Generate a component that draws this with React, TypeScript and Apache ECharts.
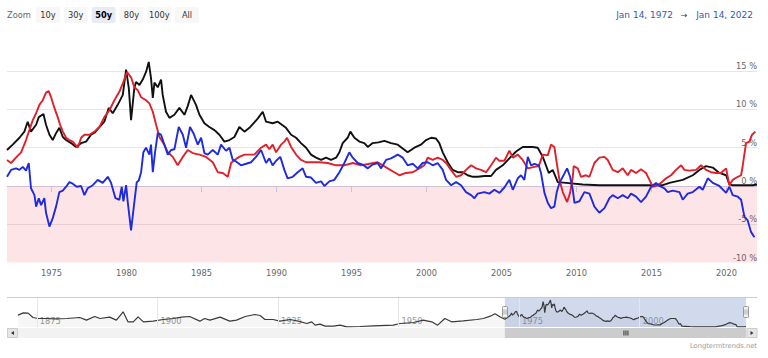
import React, { useEffect, useRef } from "react";
import * as echarts from "echarts";

const FONT = '"DejaVu Sans", Verdana, sans-serif';

// Short-term interest rate (black), [year, %]
const interestRate: [number, number][] = [
  [1972.04, 4.7], [1972.42, 5.4], [1972.87, 6.3], [1973.2, 7.1], [1973.42, 8.4], [1973.64, 7.1], [1973.98, 8.0],
  [1974.16, 9.0], [1974.47, 9.4], [1974.64, 8.0], [1974.87, 6.7], [1975.09, 6.0], [1975.31, 6.9], [1975.53, 7.6],
  [1975.76, 6.4], [1975.98, 6.0], [1976.31, 5.6], [1976.64, 5.1], [1976.98, 5.6], [1977.31, 5.8], [1977.64, 6.7],
  [1977.9, 7.0], [1978.2, 7.7], [1978.53, 8.4], [1978.82, 10.2], [1979.09, 9.5], [1979.42, 10.6], [1979.76, 11.9],
  [1979.98, 15.2], [1980.16, 12.8], [1980.31, 8.6], [1980.53, 12.8], [1980.64, 13.6], [1980.87, 13.2], [1981.09, 13.9],
  [1981.31, 14.9], [1981.49, 16.2], [1981.64, 14.1], [1981.76, 11.5], [1981.87, 13.5], [1982.09, 12.9], [1982.31, 13.9],
  [1982.42, 11.9], [1982.64, 9.7], [1982.87, 8.9], [1983.2, 9.3], [1983.53, 10.2], [1983.87, 9.3], [1984.1, 10.5],
  [1984.31, 11.9], [1984.64, 10.6], [1984.87, 9.3], [1985.2, 8.2], [1985.53, 7.7], [1985.87, 7.3], [1986.2, 6.7],
  [1986.53, 5.8], [1986.87, 6.0], [1987.2, 6.4], [1987.53, 7.7], [1987.87, 7.1], [1988.2, 7.6], [1988.53, 8.3],
  [1988.75, 8.8], [1989.09, 9.7], [1989.31, 8.4], [1989.75, 8.2], [1990.09, 8.4], [1990.64, 7.6], [1990.98, 6.7],
  [1991.31, 6.3], [1991.64, 5.6], [1991.98, 5.0], [1992.31, 4.1], [1992.64, 3.7], [1992.98, 3.4], [1993.31, 3.7],
  [1993.64, 3.4], [1993.98, 3.7], [1994.2, 4.4], [1994.42, 5.6], [1994.75, 6.3], [1994.93, 7.1], [1995.2, 6.3],
  [1995.53, 5.8], [1995.86, 5.6], [1996.09, 5.1], [1996.42, 5.6], [1996.8, 5.7], [1997.2, 5.9], [1997.64, 5.6],
  [1998.09, 5.4], [1998.75, 4.4], [1999.2, 5.0], [1999.64, 5.4], [1999.98, 6.0], [2000.31, 6.3], [2000.64, 6.2],
  [2000.86, 5.6], [2001.09, 4.4], [2001.42, 3.1], [2001.75, 2.1], [2002.09, 1.8], [2002.42, 1.8], [2002.75, 1.4],
  [2003.09, 1.2], [2003.42, 1.2], [2003.86, 1.3], [2004.31, 1.3], [2004.64, 2.1], [2005.09, 2.7], [2005.53, 3.6],
  [2005.98, 4.5], [2006.42, 5.1], [2007.09, 5.1], [2007.42, 5.0], [2007.76, 3.8], [2008.16, 1.7], [2008.42, 2.1],
  [2008.76, 0.5], [2009.31, 0.4], [2010.42, 0.2], [2011.53, 0.1], [2013.76, 0.1], [2015.76, 0.1], [2016.2, 0.4],
  [2017.09, 0.8], [2017.76, 1.4], [2018.2, 2.1], [2018.64, 2.6], [2019.09, 2.4], [2019.53, 1.7], [2019.98, 1.4],
  [2020.2, 0.2], [2020.42, 0.1], [2021.76, 0.1], [2022.04, 0.2],
];

// Inflation (red), [year, %]
const inflation: [number, number][] = [
  [1972.04, 3.4], [1972.31, 3.0], [1972.64, 3.7], [1972.98, 4.4], [1973.31, 6.0], [1973.53, 7.3], [1973.76, 8.6],
  [1973.98, 9.5], [1974.2, 10.6], [1974.42, 11.2], [1974.64, 12.2], [1974.82, 12.4], [1974.98, 11.6], [1975.2, 10.2],
  [1975.42, 9.0], [1975.58, 8.0], [1975.76, 7.1], [1975.98, 6.3], [1976.2, 6.0], [1976.42, 5.8], [1976.76, 5.0],
  [1976.98, 6.3], [1977.2, 6.7], [1977.53, 6.7], [1977.87, 7.1], [1978.2, 7.7], [1978.53, 9.0], [1978.87, 9.9],
  [1979.2, 11.2], [1979.53, 12.3], [1979.8, 13.6], [1980.04, 14.9], [1980.31, 14.2], [1980.53, 12.9], [1980.76, 12.5],
  [1980.98, 11.6], [1981.31, 11.2], [1981.53, 10.8], [1981.76, 9.7], [1981.98, 8.0], [1982.2, 6.4], [1982.53, 5.4],
  [1982.76, 4.4], [1983.09, 3.8], [1983.42, 2.7], [1983.76, 3.8], [1984.09, 4.7], [1984.42, 4.3], [1984.87, 4.1],
  [1985.31, 3.8], [1985.76, 3.1], [1986.09, 1.8], [1986.42, 1.7], [1986.76, 1.2], [1986.98, 3.0], [1987.2, 3.4],
  [1987.53, 3.8], [1987.87, 4.1], [1988.53, 4.1], [1988.98, 5.0], [1989.31, 5.4], [1989.53, 4.8], [1989.75, 5.4],
  [1989.98, 4.4], [1990.31, 5.4], [1990.53, 5.8], [1990.71, 6.3], [1990.98, 5.1], [1991.31, 4.1], [1991.64, 3.4],
  [1991.98, 3.1], [1992.86, 3.1], [1993.42, 3.0], [1993.98, 2.7], [1994.53, 2.7], [1995.09, 3.0], [1995.64, 2.7],
  [1996.2, 2.9], [1996.75, 3.1], [1997.09, 2.7], [1997.42, 2.3], [1997.86, 1.8], [1998.2, 1.4], [1998.64, 1.7],
  [1999.09, 1.8], [1999.53, 2.3], [1999.86, 2.7], [2000.09, 3.7], [2000.42, 3.4], [2000.75, 3.7], [2001.09, 3.4],
  [2001.31, 3.0], [2001.64, 2.1], [2001.98, 1.2], [2002.31, 1.4], [2002.64, 2.1], [2002.98, 2.7], [2003.31, 2.3],
  [2003.64, 2.1], [2003.98, 1.8], [2004.31, 2.7], [2004.64, 3.7], [2004.86, 3.3], [2005.2, 3.3], [2005.53, 4.6],
  [2005.76, 3.7], [2006.09, 4.1], [2006.42, 3.4], [2006.76, 2.3], [2007.2, 2.5], [2007.49, 2.6], [2007.76, 4.1],
  [2008.09, 4.0], [2008.31, 5.4], [2008.53, 5.1], [2008.69, 3.0], [2008.87, 0.8], [2009.09, -0.8], [2009.38, -2.1],
  [2009.58, -0.9], [2009.76, 1.2], [2009.82, 2.6], [2010.09, 2.3], [2010.31, 1.2], [2010.64, 1.4], [2010.87, 1.2],
  [2011.2, 3.0], [2011.53, 3.7], [2011.87, 3.8], [2012.09, 3.4], [2012.42, 2.1], [2012.76, 1.8], [2013.09, 2.3],
  [2013.42, 1.4], [2013.64, 2.1], [2013.98, 1.7], [2014.31, 2.2], [2014.64, 1.7], [2014.87, 0.8], [2015.09, -0.1],
  [2015.31, 0.0], [2015.64, 0.4], [2015.98, 1.0], [2016.31, 1.4], [2016.64, 2.1], [2016.98, 2.7], [2017.2, 2.1],
  [2017.53, 2.0], [2017.98, 2.1], [2018.31, 2.7], [2018.64, 2.1], [2018.98, 1.8], [2019.31, 1.7], [2019.64, 1.7],
  [2019.98, 2.3], [2020.2, 0.1], [2020.42, 0.8], [2020.76, 1.2], [2020.98, 1.4], [2021.09, 2.7], [2021.31, 5.6],
  [2021.53, 5.8], [2021.71, 6.7], [2021.93, 7.1],
];

// Real interest rate (blue), [year, %]
const realRate: [number, number][] = [
  [1972.04, 1.2], [1972.31, 2.1], [1972.64, 2.3], [1972.87, 2.1], [1973.09, 2.5], [1973.31, 2.0], [1973.49, 3.0],
  [1973.64, -0.3], [1973.87, -1.2], [1973.98, -2.7], [1974.16, -1.6], [1974.31, -2.5], [1974.53, -1.6], [1974.64, -3.5],
  [1974.87, -5.3], [1975.09, -4.2], [1975.31, -2.7], [1975.53, -0.8], [1975.76, -0.6], [1975.98, -0.1], [1976.2, 0.5],
  [1976.42, 0.3], [1976.69, -0.1], [1976.98, 0.0], [1977.2, -1.2], [1977.42, -0.3], [1977.76, 0.1], [1978.09, 0.8],
  [1978.42, 0.4], [1978.76, 1.2], [1978.98, 0.4], [1979.27, -1.6], [1979.53, -1.8], [1979.69, -0.1], [1979.8, -2.0],
  [1979.98, 0.1], [1980.09, -2.1], [1980.31, -5.8], [1980.53, -2.1], [1980.69, 0.5], [1980.82, 0.7], [1980.98, 1.8],
  [1981.13, 4.4], [1981.31, 5.0], [1981.53, 4.1], [1981.64, 5.4], [1981.76, 1.8], [1981.91, 4.4], [1982.09, 6.9],
  [1982.31, 6.7], [1982.53, 5.4], [1982.76, 4.1], [1982.98, 4.7], [1983.2, 4.8], [1983.49, 7.7], [1983.76, 6.7],
  [1983.98, 5.0], [1984.24, 7.7], [1984.47, 6.9], [1984.76, 5.4], [1984.98, 6.3], [1985.2, 4.3], [1985.42, 4.1],
  [1985.76, 4.7], [1986.09, 4.1], [1986.31, 5.4], [1986.64, 4.6], [1986.87, 5.0], [1987.09, 3.4], [1987.31, 3.2],
  [1987.64, 2.7], [1987.98, 2.9], [1988.31, 3.1], [1988.64, 3.8], [1988.98, 4.7], [1989.31, 3.0], [1989.53, 3.6],
  [1989.75, 2.7], [1989.98, 3.3], [1990.26, 3.8], [1990.53, 2.1], [1990.75, 1.0], [1991.09, 1.2], [1991.42, 1.8],
  [1991.75, 2.3], [1991.98, 1.2], [1992.31, 1.1], [1992.64, 0.4], [1992.98, 0.6], [1993.2, 0.0], [1993.53, 0.6],
  [1993.86, 0.8], [1994.2, 1.8], [1994.53, 3.0], [1994.86, 4.4], [1995.09, 3.7], [1995.42, 3.0], [1995.75, 2.8],
  [1996.09, 2.3], [1996.42, 2.8], [1996.75, 3.0], [1996.98, 2.3], [1997.31, 3.4], [1997.64, 3.6], [1998.09, 4.1],
  [1998.42, 3.7], [1998.75, 2.7], [1999.09, 2.9], [1999.42, 2.3], [1999.75, 3.0], [2000.09, 3.1], [2000.42, 2.7],
  [2000.75, 3.0], [2001.09, 2.1], [2001.31, 0.8], [2001.64, 0.1], [2001.98, 0.5], [2002.31, 0.1], [2002.64, -0.8],
  [2002.98, -1.2], [2003.2, -1.6], [2003.42, -1.0], [2003.86, -0.8], [2004.2, -1.0], [2004.53, -0.5], [2004.87, -0.9],
  [2005.2, -0.2], [2005.53, 0.8], [2005.76, -0.5], [2006.09, 1.0], [2006.31, 1.4], [2006.53, 0.8], [2006.76, 3.8],
  [2006.98, 2.7], [2007.2, 2.9], [2007.49, 2.7], [2007.64, 1.7], [2007.87, -0.9], [2008.09, -2.2], [2008.31, -2.9],
  [2008.53, -2.7], [2008.69, -0.8], [2008.87, 0.4], [2009.09, 1.2], [2009.38, 2.3], [2009.58, 1.2], [2009.76, -0.5],
  [2009.87, -2.2], [2010.2, -2.0], [2010.53, -0.8], [2010.87, -1.0], [2011.2, -2.7], [2011.53, -3.5], [2011.87, -2.9],
  [2012.2, -1.6], [2012.42, -1.2], [2012.76, -1.6], [2013.09, -1.2], [2013.42, -1.6], [2013.64, -1.0], [2013.98, -1.4],
  [2014.31, -2.1], [2014.64, -1.4], [2014.98, -0.1], [2015.31, 0.4], [2015.53, 0.0], [2015.87, -0.3], [2016.09, -0.8],
  [2016.42, -0.6], [2016.87, -0.8], [2017.09, -1.8], [2017.42, -1.0], [2017.76, -0.8], [2018.2, -0.1], [2018.42, -0.5],
  [2018.76, 1.0], [2019.09, 0.4], [2019.53, 0.0], [2019.98, -0.9], [2020.2, -0.1], [2020.42, -1.2], [2020.76, -1.4],
  [2020.98, -1.8], [2021.2, -4.0], [2021.42, -4.5], [2021.64, -6.0], [2021.87, -6.7],
];

// Long-run interest-rate history shown only in the navigator (before 1972)
const longRunRate: [number, number][] = [
  [1871.1, 7.1], [1872.2, 8.5], [1873.2, 8.3], [1874.2, 5.7], [1875.3, 5.1], [1877.0, 5.1], [1878.7, 4.9],
  [1881.2, 5.1], [1883.9, 5.7], [1885.3, 4.1], [1887.0, 6.3], [1888.1, 5.1], [1890.1, 5.9], [1891.5, 4.1],
  [1892.9, 9.1], [1893.9, 3.1], [1895.0, 3.1], [1896.0, 6.1], [1897.1, 3.1], [1899.1, 3.5], [1901.2, 4.5],
  [1903.3, 5.1], [1905.0, 5.9], [1906.7, 6.3], [1908.8, 3.5], [1909.8, 5.1], [1910.9, 4.1], [1913.0, 5.9],
  [1915.0, 3.5], [1916.4, 4.1], [1918.2, 6.3], [1920.2, 7.5], [1921.3, 6.9], [1922.3, 4.5], [1924.0, 4.5],
  [1925.4, 3.5], [1927.5, 4.5], [1929.2, 3.5], [1931.0, 2.1], [1932.0, 3.1], [1932.7, 1.1], [1933.7, 1.7],
  [1934.8, 0.5], [1936.5, 0.5], [1937.9, 1.1], [1939.3, 0.1], [1942.0, 0.3], [1944.8, 0.7], [1948.9, 1.1],
  [1950.3, 2.1], [1953.1, 2.7], [1955.1, 4.1], [1956.9, 3.1], [1958.1, 1.1], [1959.6, 5.1], [1961.0, 3.1],
  [1963.4, 3.7], [1966.2, 4.5], [1967.6, 5.1], [1969.0, 6.5], [1970.0, 8.0], [1971.1, 6.0],
];

const xTickYears = [1975, 1980, 1985, 1990, 1995, 2000, 2005, 2010, 2015, 2020];
const navTickYears = [1875, 1900, 1925, 1950, 1975, 2000];
const yMin = -10;
const yMax = 16.2;
const yStep = 5;
const navStart = 1871.1;
const navValueMax = 18;
const rangeStart = 1972.04;
const rangeEnd = 2022.04;
const rangeButtons = ["10y", "30y", "50y", "80y", "100y", "All"];
const selectedRange = "50y";
const zoomLabel = "Zoom";
const fromLabel = "Jan 14, 1972";
const toLabel = "Jan 14, 2022";
const creditLabel = "Longtermtrends.net";

export default function App() {
  const ref = useRef<HTMLDivElement>(null);

  useEffect(() => {
    const chart = echarts.init(ref.current!, null, { renderer: "svg" });

    const line = (name: string, data: [number, number][], color: string, extra: any = {}) => ({
      type: "line",
      name,
      data,
      xAxisIndex: 0,
      yAxisIndex: 0,
      symbol: "none",
      showSymbol: false,
      silent: true,
      lineStyle: { color, width: 1.9 },
      itemStyle: { color },
      z: 3,
      ...extra,
    });

    chart.setOption({
      animation: false,
      grid: [
        { left: 7, right: 11, top: 62, height: 200.5 },
        { left: 18, right: 22, top: 297, height: 30 },
      ],
      xAxis: [
        {
          type: "value",
          gridIndex: 0,
          min: rangeStart,
          max: rangeEnd,
          axisLine: { show: true, lineStyle: { color: "#ccd6eb", width: 1 } },
          axisTick: { show: true, customValues: xTickYears, length: 6, lineStyle: { color: "#ccd6eb" } },
          axisLabel: {
            customValues: xTickYears,
            color: "#666666",
            fontSize: 8.25,
            fontFamily: FONT,
            margin: 6,
            formatter: (v: number) => String(Math.round(v)),
          },
          splitLine: { show: false },
        },
        {
          type: "value",
          gridIndex: 1,
          min: navStart,
          max: rangeEnd,
          axisLine: { show: false },
          axisTick: { show: false },
          axisLabel: {
            customValues: navTickYears,
            inside: true,
            align: "left",
            verticalAlign: "bottom",
            padding: [0, 0, 0, 3],
            margin: 2,
            color: "#999999",
            fontSize: 8.25,
            fontFamily: FONT,
            formatter: (v: number) => String(Math.round(v)),
          },
          splitLine: { show: false },
        },
      ],
      yAxis: [
        {
          type: "value",
          gridIndex: 0,
          position: "right",
          min: yMin,
          max: yMax,
          interval: yStep,
          axisLine: { show: false },
          axisTick: { show: false },
          axisLabel: {
            inside: true,
            margin: 0,
            verticalAlign: "bottom",
            padding: [0, 0, 1, 0],
            showMaxLabel: false,
            color: "#666666",
            fontSize: 8.25,
            fontFamily: FONT,
            formatter: (v: number) => `${v} %`,
          },
          splitLine: { show: true, showMaxLine: false, showMinLine: false, lineStyle: { color: "#e6e6e6", width: 1 } },
        },
        {
          type: "value",
          gridIndex: 1,
          min: 0,
          max: navValueMax,
          show: false,
          splitLine: { show: false },
        },
      ],
      series: [
        line("Interest rate", interestRate, "#111111", {
          markArea: {
            silent: true,
            itemStyle: { color: "rgba(240, 30, 60, 0.12)" },
            data: [[{ yAxis: yMin }, { yAxis: 0 }]],
          },
        }),
        line("Inflation", inflation, "#e0202a"),
        line("Real interest rate", realRate, "#1f2bdc"),
        {
          type: "line",
          name: "Navigator",
          xAxisIndex: 1,
          yAxisIndex: 1,
          data: [...longRunRate, ...interestRate],
          symbol: "none",
          showSymbol: false,
          silent: true,
          lineStyle: { color: "#3a3a3a", width: 1.2 },
          areaStyle: { color: "rgba(0,0,0,0.05)" },
          z: 3,
          markLine: {
            silent: true,
            symbol: "none",
            label: { show: false },
            lineStyle: { color: "#e6e6e6", width: 1, type: "solid" },
            data: navTickYears.map((y) => ({ xAxis: y })),
          },
          markArea: {
            silent: true,
            itemStyle: { color: "rgba(102,133,194,0.3)" },
            data: [[{ xAxis: rangeStart }, { xAxis: rangeEnd }]],
          },
        },
      ],
    });

    const hx0 = chart.convertToPixel({ xAxisIndex: 1 }, rangeStart) as number;
    const hx1 = chart.convertToPixel({ xAxisIndex: 1 }, rangeEnd) as number;
    const navTop = 297;
    const navMid = 312;
    const sbTop = 328;
    const sbH = 10;
    const left = 7;
    const right = 757;

    const graphics: any[] = [];
    graphics.push({
      type: "text",
      x: 7,
      y: 15,
      style: { text: zoomLabel, fill: "#666666", font: `8.25px ${FONT}`, align: "left", verticalAlign: "middle" },
    });
    rangeButtons.forEach((b, i) => {
      const bx = 36 + i * 27.8;
      const sel = b === selectedRange;
      graphics.push({
        type: "rect",
        shape: { x: bx, y: 7, width: 24, height: 16, r: 2 },
        style: { fill: sel ? "#e6ebf5" : "#f7f7f7" },
      });
      graphics.push({
        type: "text",
        x: bx + 12,
        y: 15,
        style: {
          text: b,
          fill: sel ? "#000000" : "#333333",
          font: `${sel ? "bold " : ""}8.25px ${FONT}`,
          align: "center",
          verticalAlign: "middle",
        },
      });
    });
    graphics.push({
      type: "text",
      x: 673,
      y: 15,
      style: { text: fromLabel, fill: "#335cad", font: `9px ${FONT}`, align: "right", verticalAlign: "middle" },
    });
    graphics.push({
      type: "text",
      x: 684,
      y: 15,
      style: { text: "→", fill: "#333333", font: `8px ${FONT}`, align: "center", verticalAlign: "middle" },
    });
    graphics.push({
      type: "text",
      x: 753,
      y: 15,
      style: { text: toLabel, fill: "#335cad", font: `9px ${FONT}`, align: "right", verticalAlign: "middle" },
    });

    // navigator outline
    graphics.push({
      type: "line",
      z: 10,
      shape: { x1: left, y1: navTop + 0.5, x2: right, y2: navTop + 0.5 },
      style: { stroke: "#cccccc", lineWidth: 1 },
    });
    // scrollbar track
    graphics.push({
      type: "rect",
      z: 10,
      shape: { x: left, y: sbTop, width: right - left, height: sbH },
      style: { fill: "#f2f2f2" },
    });
    // scrollbar thumb
    graphics.push({
      type: "rect",
      z: 11,
      shape: { x: hx0, y: sbTop, width: hx1 - hx0, height: sbH },
      style: { fill: "#cccccc" },
    });
    const cx = (hx0 + hx1) / 2;
    [-2, 0, 2].forEach((d) => {
      graphics.push({
        type: "line",
        z: 12,
        shape: { x1: cx + d + 0.5, y1: sbTop + 2.5, x2: cx + d + 0.5, y2: sbTop + sbH - 2.5 },
        style: { stroke: "#333333", lineWidth: 1 },
      });
    });
    // scrollbar buttons
    [
      { x: left, dir: -1 },
      { x: right - 10.5, dir: 1 },
    ].forEach(({ x, dir }) => {
      graphics.push({
        type: "rect",
        z: 12,
        shape: { x: x + 0.5, y: sbTop + 0.5, width: 10, height: sbH - 1 },
        style: { fill: "#e6e6e6", stroke: "#cccccc", lineWidth: 1 },
      });
      const mx = x + 5.5;
      const my = sbTop + sbH / 2;
      graphics.push({
        type: "polygon",
        z: 13,
        shape: {
          points:
            dir < 0
              ? [[mx + 1.5, my - 2], [mx + 1.5, my + 2], [mx - 1.5, my]]
              : [[mx - 1.5, my - 2], [mx - 1.5, my + 2], [mx + 1.5, my]],
        },
        style: { fill: "#333333" },
      });
    });
    // navigator handles
    [hx0, hx1].forEach((hx) => {
      graphics.push({
        type: "rect",
        z: 14,
        shape: { x: Math.round(hx) - 2.5, y: navMid - 5.5, width: 5, height: 11, r: 1 },
        style: { fill: "#f2f2f2", stroke: "#999999", lineWidth: 1 },
      });
      [-0.5, 1.5].forEach((d) => {
        graphics.push({
          type: "line",
          z: 15,
          shape: { x1: Math.round(hx) + d - 0.5, y1: navMid - 2.5, x2: Math.round(hx) + d - 0.5, y2: navMid + 2.5 },
          style: { stroke: "#999999", lineWidth: 0.8 },
        });
      });
    });
    graphics.push({
      type: "text",
      x: 757,
      y: 346,
      style: { text: creditLabel, fill: "#999999", font: `6.75px ${FONT}`, align: "right", verticalAlign: "middle" },
    });

    chart.setOption({ graphic: graphics });

    return () => chart.dispose();
  }, []);

  return (
    <div
      ref={ref}
      style={{ position: "fixed", left: 0, top: 0, width: 768, height: 358, background: "#ffffff" }}
    />
  );
}
